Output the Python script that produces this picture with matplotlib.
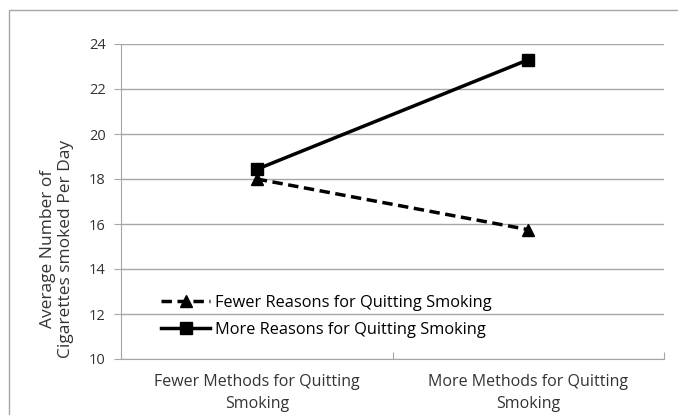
import matplotlib
matplotlib.use("Agg")
import matplotlib.pyplot as plt
from matplotlib.patches import Rectangle

categories = ["Fewer Methods for Quitting\nSmoking", "More Methods for Quitting\nSmoking"]
fewer_reasons = [18.0, 15.75]
more_reasons = [18.43, 23.3]
series_labels = ["Fewer Reasons for Quitting Smoking", "More Reasons for Quitting Smoking"]
yticks = [10, 12, 14, 16, 18, 20, 22, 24]

plt.rcParams['font.family'] = ['Open Sans', 'DejaVu Sans']
W, H = 678, 415
fig = plt.figure(figsize=(W/100, H/100), dpi=100)
fig.patches.append(Rectangle((9/W, -0.1), 1.0, 1 - 10/H + 0.1, transform=fig.transFigure,
                             fill=False, edgecolor='#a6a6a6', linewidth=1.0))
left, right, top, bottom = 121, 664, 44, 359
ax = fig.add_axes([left/W, 1 - bottom/H, (right-left)/W, (bottom-top)/H])

x = [0.5, 1.5]
ax.plot(x, fewer_reasons, color='black', linestyle=(0, (3, 1.6)), linewidth=2.5,
        marker='^', markersize=9, label=series_labels[0], zorder=3)
ax.plot(x, more_reasons, color='black', linestyle='-', linewidth=2.5,
        marker='s', markersize=9, label=series_labels[1], zorder=3)

ax.set_xlim(0, 2)
ax.set_ylim(10, 24)
ax.set_yticks(yticks)
ax.set_yticklabels([str(v) for v in yticks], fontsize=10.5, color='#333333')
ax.yaxis.grid(True, color='#a6a6a6', linewidth=1.0)
ax.set_axisbelow(True)
ax.set_xticks([0, 1, 2])
ax.set_xticklabels([])
ax.set_xticks(x, minor=True)
ax.set_xticklabels(categories, minor=True, fontsize=11.5, color='#333333', linespacing=1.5)
ax.tick_params(axis='x', which='minor', length=0, pad=11)
ax.tick_params(axis='x', which='major', length=5, color='#a6a6a6', direction='in')
ax.tick_params(axis='y', length=5, color='#a6a6a6', pad=6)
for s in ['top', 'right']:
    ax.spines[s].set_visible(False)
for s in ['left', 'bottom']:
    ax.spines[s].set_color('#a6a6a6')
ax.set_ylabel("Average Number of\nCigarettes smoked Per Day", fontsize=12.5, color='#333333',
              linespacing=1.2)
ax.yaxis.set_label_coords(-47/543, 0.35)

ax.legend(loc='lower left', bbox_to_anchor=(0.047, 0.02), frameon=False, fontsize=11.8,
          handlelength=3.0, labelspacing=0.68, handletextpad=0.3)

fig.savefig("out.png", dpi=100)
